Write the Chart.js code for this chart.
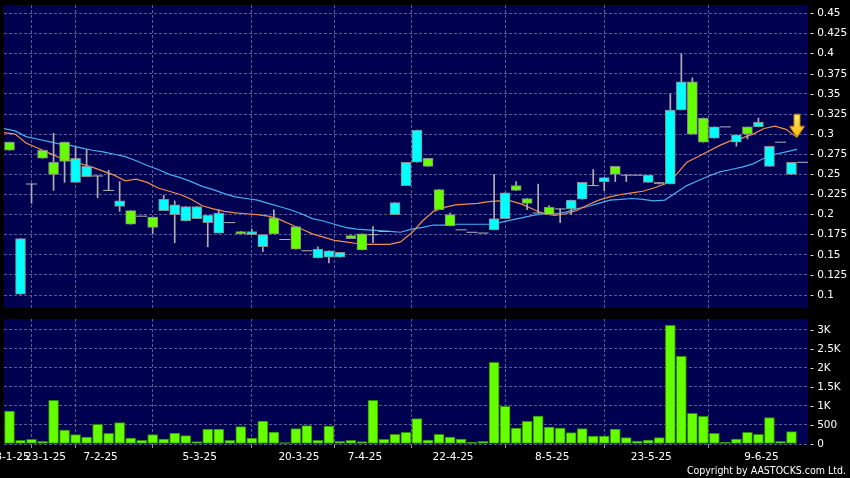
<!DOCTYPE html>
<html lang="en">
<head>
<meta charset="UTF-8">
<title>Candlestick</title>
<script src="https://cdn.jsdelivr.net/npm/chart.js"></script>
<style>
  body { margin: 0; background: #000; }
  #wrap { position: relative; width: 850px; height: 478px; overflow: hidden; background: #000; }
  #pricePane { position: absolute; left: 0; top: 0; width: 850px; height: 310px; }
  #volPane { position: absolute; left: 0; top: 310px; width: 850px; height: 168px; }
  #copy { position: absolute; right: 4px; top: 464px; color: #fff; font: 10.5px 'DejaVu Sans Condensed', 'DejaVu Sans', sans-serif; white-space: nowrap; }
</style>
</head>
<body>
<div id="wrap">
  <div id="pricePane"><canvas id="priceChart"></canvas></div>
  <div id="volPane"><canvas id="volChart"></canvas></div>
  <div id="copy">Copyright by AASTOCKS.com Ltd.</div>
</div>
<script>
// daily candles, one slot per trading day shown
const open  = [0.290,0.101,0.238,0.280,0.265,0.290,0.240,0.247,0.248,0.230,
               0.210,0.205,0.198,0.197,0.205,0.200,0.192,0.195,0.190,0.177,
               0.190,0.179,0.175,0.160,0.196,0.169,0.185,0.155,0.146,0.147,
               0.147,0.174,0.176,0.175,0.179,0.200,0.236,0.265,0.270,0.231,
               0.200,0.181,0.178,0.177,0.181,0.195,0.236,0.220,0.202,0.209,
               0.207,0.207,0.219,0.236,0.241,0.260,0.249,0.249,0.240,0.240,
               0.238,0.330,0.365,0.320,0.295,0.309,0.290,0.309,0.309,0.260,
               0.290,0.250,0.265];
const high  = [0.290,0.170,0.238,0.280,0.301,0.290,0.284,0.281,0.248,0.255,
               0.241,0.205,0.198,0.197,0.224,0.217,0.210,0.210,0.199,0.206,
               0.190,0.179,0.182,0.175,0.206,0.169,0.185,0.155,0.160,0.155,
               0.153,0.174,0.176,0.185,0.179,0.215,0.265,0.305,0.270,0.231,
               0.202,0.181,0.178,0.177,0.250,0.227,0.241,0.220,0.238,0.211,
               0.207,0.218,0.240,0.256,0.246,0.260,0.249,0.249,0.249,0.240,
               0.350,0.400,0.370,0.320,0.309,0.309,0.299,0.309,0.320,0.285,
               0.290,0.265,0.265];
const low   = [0.280,0.101,0.214,0.270,0.230,0.240,0.240,0.247,0.221,0.230,
               0.204,0.188,0.198,0.176,0.205,0.165,0.192,0.195,0.160,0.177,
               0.190,0.176,0.175,0.154,0.176,0.169,0.157,0.155,0.146,0.140,
               0.147,0.170,0.156,0.165,0.179,0.200,0.236,0.265,0.260,0.206,
               0.186,0.181,0.178,0.177,0.181,0.195,0.230,0.206,0.202,0.200,
               0.190,0.200,0.219,0.236,0.230,0.241,0.241,0.249,0.240,0.238,
               0.238,0.330,0.300,0.290,0.295,0.309,0.285,0.294,0.309,0.260,
               0.290,0.250,0.265];
const close = [0.280,0.170,0.238,0.270,0.250,0.266,0.270,0.260,0.248,0.230,
               0.217,0.188,0.198,0.184,0.219,0.212,0.210,0.210,0.199,0.202,
               0.190,0.176,0.179,0.175,0.176,0.169,0.157,0.155,0.157,0.155,
               0.153,0.170,0.156,0.175,0.179,0.215,0.265,0.305,0.260,0.206,
               0.186,0.181,0.178,0.177,0.195,0.227,0.230,0.214,0.202,0.200,
               0.207,0.218,0.240,0.236,0.246,0.250,0.249,0.249,0.249,0.238,
               0.330,0.365,0.300,0.290,0.309,0.309,0.299,0.300,0.315,0.285,
               0.290,0.265,0.265];
const volume = [868,96,123,70,1149,368,246,184,517,281,
                561,158,96,246,132,289,219,61,395,395,
                96,456,158,605,316,35,403,482,96,474,
                70,96,61,1149,123,254,307,667,100,254,
                184,132,44,70,2149,991,421,596,737,447,
                421,298,403,210,210,395,167,79,105,167,
                3122,2307,807,728,281,44,132,307,254,693,
                70,325,0];
// moving averages, read at the slot boundaries (one more point than candles)
const ma10 = [0.302,0.300,0.289,0.283,0.277,0.271,0.267,0.263,0.259,0.254,
              0.249,0.242,0.244,0.240,0.233,0.229,0.225,0.219,0.211,0.207,
              0.204,0.202,0.201,0.200,0.198,0.194,0.188,0.182,0.176,0.172,
              0.168,0.166,0.164,0.163,0.163,0.163,0.166,0.177,0.192,0.204,
              0.209,0.212,0.213,0.214,0.216,0.217,0.217,0.213,0.207,0.201,
              0.199,0.201,0.205,0.212,0.218,0.222,0.225,0.227,0.229,0.233,
              0.238,0.249,0.265,0.272,0.279,0.286,0.292,0.295,0.300,0.307,
              0.310,0.306,0.296];
const ma20 = [0.307,0.304,0.297,0.294,0.291,0.288,0.286,0.283,0.280,0.278,
              0.275,0.272,0.267,0.261,0.256,0.250,0.246,0.241,0.235,0.231,
              0.226,0.222,0.220,0.218,0.214,0.210,0.206,0.201,0.195,0.192,
              0.188,0.184,0.182,0.181,0.180,0.179,0.178,0.182,0.184,0.187,
              0.187,0.188,0.188,0.188,0.188,0.190,0.193,0.196,0.199,0.201,
              0.201,0.203,0.207,0.210,0.214,0.218,0.219,0.220,0.219,0.217,
              0.218,0.227,0.236,0.242,0.248,0.253,0.256,0.259,0.263,0.270,
              0.275,0.278,0.281];

const priceTicks = [0.1,0.125,0.15,0.175,0.2,0.225,0.25,0.275,0.3,0.325,0.35,0.375,0.4,0.425,0.45];
const volumeTicks = [0,500,1000,1500,2000,2500,3000];
const volumeTickLabels = ['0','500','1K','1.5K','2K','2.5K','3K'];
const dateTickIndex = [0,3,8,17,26,32,40,49,58,68];
const dateTickLabels = ['8-1-25','23-1-25','7-2-25','5-3-25','20-3-25','7-4-25','22-4-25','8-5-25','23-5-25','9-6-25'];

Chart.defaults.font.family = "'DejaVu Sans', sans-serif";
Chart.defaults.font.size = 10.5;
Chart.defaults.color = '#fff';

const NAVY = '#000050';
const GRID = '#5a5a96';
const UP = '#00ffff';
const DOWN = '#66ff00';
const EDGE = '#8a8a8a';

const plotBg = {
    id: 'plotBg',
    beforeDraw(chart) {
        const { ctx, chartArea: a } = chart;
        ctx.save();
        ctx.fillStyle = NAVY;
        ctx.fillRect(a.left, a.top, a.right - a.left, a.bottom - a.top);
        ctx.restore();
    }
};

function dateAxis(showLabels) {
    return {
        type: 'linear',
        min: -0.5,
        max: open.length - 0.5,
        offset: false,
        afterBuildTicks: s => { s.ticks = dateTickIndex.map(i => ({ value: i + 0.5 })); },
        afterFit: s => { s.paddingLeft = 0; s.paddingRight = 0; s.height = showLabels ? 34 : 0; },
        grid: { color: GRID, drawTicks: showLabels, tickLength: 4, tickColor: '#9a9a9a', tickBorderDash: [] },
        border: { display: false, dash: [3, 2] },
        ticks: {
            display: showLabels, autoSkip: false, maxRotation: 0, minRotation: 0,
            padding: 3, labelOffset: -2.5,
            callback: (v, i) => dateTickLabels[i]
        }
    };
}

function valueAxis(min, max, ticks, label) {
    return {
        position: 'right',
        min: min,
        max: max,
        afterBuildTicks: s => { s.ticks = ticks.map(v => ({ value: v })); },
        afterFit: s => { s.width = 42; s.paddingTop = 0; s.paddingBottom = 0; },
        grid: { color: GRID, drawTicks: false },
        border: { display: false, dash: [3, 2] },
        ticks: { padding: 2, callback: (v, i) => '- ' + label(v, i) }
    };
}

function makeArrow() {
    const c = document.createElement('canvas');
    c.width = 18; c.height = 50;
    const g = c.getContext('2d');
    const grad = g.createLinearGradient(0, 2, 0, 25);
    grad.addColorStop(0, '#ffee70');
    grad.addColorStop(1, '#ffb400');
    g.beginPath();
    g.moveTo(6, 2); g.lineTo(12, 2); g.lineTo(12, 14); g.lineTo(16.5, 14);
    g.lineTo(9, 25); g.lineTo(1.5, 14); g.lineTo(6, 14); g.closePath();
    g.fillStyle = grad;
    g.fill();
    g.strokeStyle = '#c98000';
    g.lineWidth = 1;
    g.stroke();
    return c;
}

const idx = open.map((_, i) => i);
const isDoji = i => open[i] === close[i];

const bodies = idx.filter(i => !isDoji(i)).map(i => ({ x: i, y: [open[i], close[i]], up: close[i] > open[i] }));
const wicks = idx.filter(i => high[i] > low[i]).map(i => ({ x: i, y: [low[i], high[i]] }));
const dojis = idx.filter(isDoji).map(i => ({ x: i, y: close[i] }));
const ma10Pts = ma10.map((v, k) => ({ x: k - 0.5, y: v }));
const ma20Pts = ma20.map((v, k) => ({ x: k - 0.5, y: v }));
const lastMa = ma10.length - 1;
const arrowPts = [{ x: lastMa - 0.5, y: ma10[lastMa] }];

new Chart(document.getElementById('priceChart'), {
    type: 'bar',
    data: {
        datasets: [
            { type: 'line', data: ma20Pts, borderColor: '#48aef0', borderWidth: 1.2, pointRadius: 0, order: 6 },
            { type: 'line', data: ma10Pts, borderColor: '#f0904a', borderWidth: 1.2, pointRadius: 0, order: 5 },
            { data: wicks, backgroundColor: '#b0b0b0', barThickness: 1, grouped: false, order: 4 },
            { data: bodies, backgroundColor: c => (c.raw && c.raw.up ? UP : DOWN), borderColor: EDGE,
              borderWidth: 1, borderSkipped: false, barThickness: 10, grouped: false, order: 2 },
            { type: 'line', data: dojis, showLine: false, pointStyle: 'line', pointRadius: 5.5,
              borderColor: '#b4b4b4', borderWidth: 1, order: 3 },
            { type: 'line', data: arrowPts, showLine: false, pointStyle: makeArrow(), pointRadius: 9, order: 1 }
        ]
    },
    options: {
        animation: false,
        responsive: true,
        maintainAspectRatio: false,
        events: [],
        layout: { autoPadding: false, padding: { top: 5, left: 4, right: 0, bottom: 2 } },
        plugins: { legend: { display: false }, tooltip: { enabled: false } },
        scales: {
            x: dateAxis(false),
            y: valueAxis(0.08384, 0.46057, priceTicks, v => v)
        }
    },
    plugins: [plotBg]
});

new Chart(document.getElementById('volChart'), {
    type: 'bar',
    data: {
        datasets: [{
            data: idx.filter(i => volume[i] > 0).map(i => ({ x: i, y: volume[i] })),
            backgroundColor: '#66ff00',
            borderColor: '#2f8a00',
            borderWidth: 1,
            borderSkipped: false,
            barThickness: 10,
            grouped: false
        }]
    },
    options: {
        animation: false,
        responsive: true,
        maintainAspectRatio: false,
        events: [],
        layout: { autoPadding: false, padding: { top: 9, left: 4, right: 0, bottom: 0 } },
        plugins: { legend: { display: false }, tooltip: { enabled: false } },
        scales: {
            x: dateAxis(true),
            y: valueAxis(0, 3289, volumeTicks, (v, i) => volumeTickLabels[i])
        }
    },
    plugins: [plotBg]
});
</script>
</body>
</html>
